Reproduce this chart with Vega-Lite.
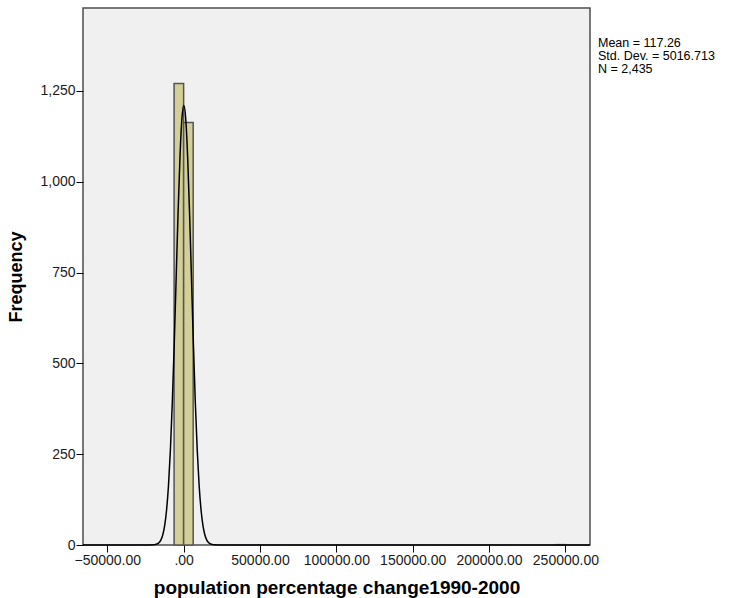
{
  "$schema": "https://vega.github.io/schema/vega-lite/v6.json",
  "autosize": "none",
  "width": 507,
  "height": 537,
  "padding": {"left": 83, "top": 8, "right": 139, "bottom": 53},
  "background": "white",
  "config": {
    "font": "Liberation Sans",
    "view": {"fill": "#f0f0f0", "stroke": "#4d4d4d", "strokeWidth": 1.5}
  },
  "title": {
    "text": ["Mean = 117.26", "Std. Dev. = 5016.713", "N = 2,435"],
    "orient": "top",
    "anchor": "end",
    "align": "left",
    "frame": "group",
    "baseline": "top",
    "dx": 8,
    "dy": 67,
    "offset": 0,
    "font": "Liberation Sans",
    "fontSize": 12.5,
    "fontWeight": "normal",
    "lineHeight": 13,
    "color": "#000000"
  },
  "datasets": {
    "bins": [
      {"bin_start": -6250, "bin_end": 0, "count": 1270},
      {"bin_start": 0, "bin_end": 6250, "count": 1163},
      {"bin_start": 243750, "bin_end": 250000, "count": 1}
    ],
    "curve": [
      {"x": -66000, "y": 0},
      {"x": -22458, "y": 0.05},
      {"x": -19950, "y": 0.41},
      {"x": -18696, "y": 1.07},
      {"x": -17442, "y": 2.65},
      {"x": -16187, "y": 6.15},
      {"x": -14933, "y": 13.4},
      {"x": -13679, "y": 27.6},
      {"x": -12425, "y": 53.2},
      {"x": -11171, "y": 96.3},
      {"x": -9916, "y": 163.8},
      {"x": -8662, "y": 261.8},
      {"x": -7408, "y": 392.9},
      {"x": -6154, "y": 554.1},
      {"x": -4899, "y": 734.1},
      {"x": -3645, "y": 913.6},
      {"x": -2391, "y": 1068.1},
      {"x": -1137, "y": 1173.1},
      {"x": 117, "y": 1210.3},
      {"x": 1371, "y": 1173.1},
      {"x": 2626, "y": 1068.1},
      {"x": 3880, "y": 913.6},
      {"x": 5134, "y": 734.1},
      {"x": 6388, "y": 554.1},
      {"x": 7642, "y": 392.9},
      {"x": 8897, "y": 261.8},
      {"x": 10151, "y": 163.8},
      {"x": 11405, "y": 96.3},
      {"x": 12659, "y": 53.2},
      {"x": 13913, "y": 27.6},
      {"x": 15167, "y": 13.4},
      {"x": 16422, "y": 6.15},
      {"x": 17676, "y": 2.65},
      {"x": 18930, "y": 1.07},
      {"x": 20184, "y": 0.41},
      {"x": 22693, "y": 0.05},
      {"x": 266000, "y": 0}
    ]
  },
  "layer": [
    {
      "data": {"name": "bins"},
      "mark": {"type": "rect", "fill": "#d3cf96", "stroke": "#555555", "strokeWidth": 1.5},
      "encoding": {
        "x": {
          "field": "bin_start",
          "type": "quantitative",
          "scale": {"domain": [-65900, 266100], "nice": false, "zero": false},
          "axis": {
            "title": "population percentage change1990-2000",
            "values": [-50000, 0, 50000, 100000, 150000, 200000, 250000],
            "labelExpr": "datum.value == 0 ? '.00' : format(datum.value, '.2f')",
            "labelFontSize": 14,
            "labelColor": "#1a1a1a",
            "labelFont": "Liberation Sans",
            "titleFont": "Liberation Sans",
            "titleFontSize": 19,
            "titleFontWeight": "bold",
            "titleColor": "#000000",
            "titlePadding": 11,
            "domain": false,
            "grid": false,
            "tickColor": "#000000",
            "tickSize": 7,
            "labelPadding": 1
          }
        },
        "x2": {"field": "bin_end"},
        "y": {
          "field": "count",
          "type": "quantitative",
          "scale": {"domain": [0, 1478], "nice": false},
          "axis": {
            "title": "Frequency",
            "values": [0, 250, 500, 750, 1000, 1250],
            "format": ",d",
            "labelFontSize": 14,
            "labelColor": "#1a1a1a",
            "labelFont": "Liberation Sans",
            "titleFont": "Liberation Sans",
            "titleFontSize": 18,
            "titleFontWeight": "bold",
            "titleColor": "#000000",
            "titlePadding": 14,
            "domain": false,
            "grid": false,
            "tickColor": "#000000",
            "tickSize": 7,
            "labelPadding": 1
          }
        },
        "y2": {"datum": 0}
      }
    },
    {
      "data": {"name": "curve"},
      "mark": {"type": "line", "color": "#000000", "strokeWidth": 1.5, "interpolate": "monotone"},
      "encoding": {
        "x": {"field": "x", "type": "quantitative"},
        "y": {"field": "y", "type": "quantitative"}
      }
    }
  ]
}
